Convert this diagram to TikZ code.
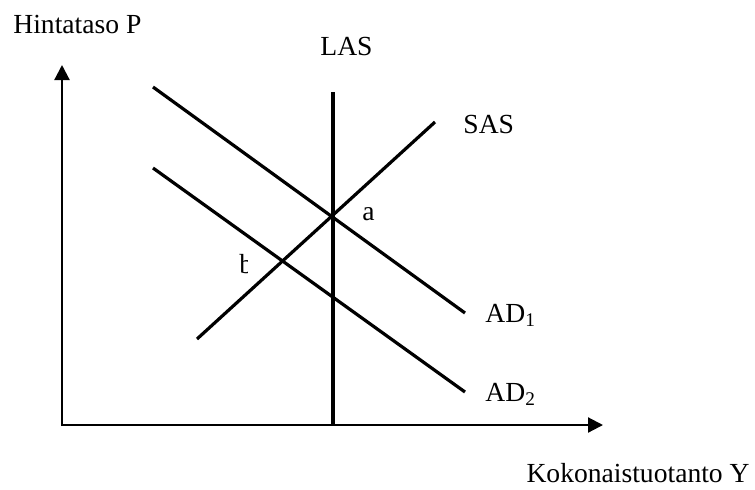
\documentclass[tikz,border=0pt]{standalone}
\usepackage{fontspec}
\setmainfont{Liberation Serif}
\usepackage{tikz}
\usetikzlibrary{arrows.meta, positioning}

\begin{document}
\begin{tikzpicture}[
        x=0.5pt, y=-0.5pt,
        lbl/.style={inner sep=0pt, anchor=base west, font=\fontsize{13.8}{16}\selectfont},
        axis/.style={line width=1.1pt, -{Triangle[length=7.5pt, width=7.5pt]}},
        curve/.style={line width=1.6pt}
    ]
        \useasboundingbox (0,0) rectangle (755,489);

        % axes
        \coordinate (origin) at (62,425);
        \coordinate (ytop) at (62,65);
        \coordinate (xend) at (603,425);
        \draw[axis] (62,426) -- (ytop);
        \draw[axis] (origin) -- (xend);

        % curves
        \coordinate (las1) at (333,92);
        \coordinate (las2) at (333,425);
        \coordinate (sas1) at (197,339);
        \coordinate (sas2) at (435,122);
        \coordinate (ad1s) at (153,87);
        \coordinate (ad1e) at (465,313);
        \coordinate (ad2s) at (153,168);
        \coordinate (ad2e) at (465,392);
        \draw[curve] (las1) -- (las2);
        \draw[curve] (sas1) -- (sas2);
        \draw[curve] (ad1s) -- (ad1e);
        \draw[curve] (ad2s) -- (ad2e);

        % labels
        \node[lbl] (ylab) at (13,33) {Hintataso P};
        \node[lbl] (xlab) at (750,482) [anchor=base east] {Kokonaistuotanto Y};
        \node[lbl] (laslab) at (320,55) {LAS};
        \node[lbl] (saslab) at (463,133) {SAS};
        \node[lbl] (ad1lab) at (485,322) {AD\textsubscript{1}};
        \node[lbl] (ad2lab) at (485,401) {AD\textsubscript{2}};
        \node[lbl] (pa) at (362,220) {a};
        \begin{scope}
            \clip (230,245) rectangle (247,285);
            \node[lbl] (pb) at (239,273) {b};
        \end{scope}
    \end{tikzpicture}
\end{document}
